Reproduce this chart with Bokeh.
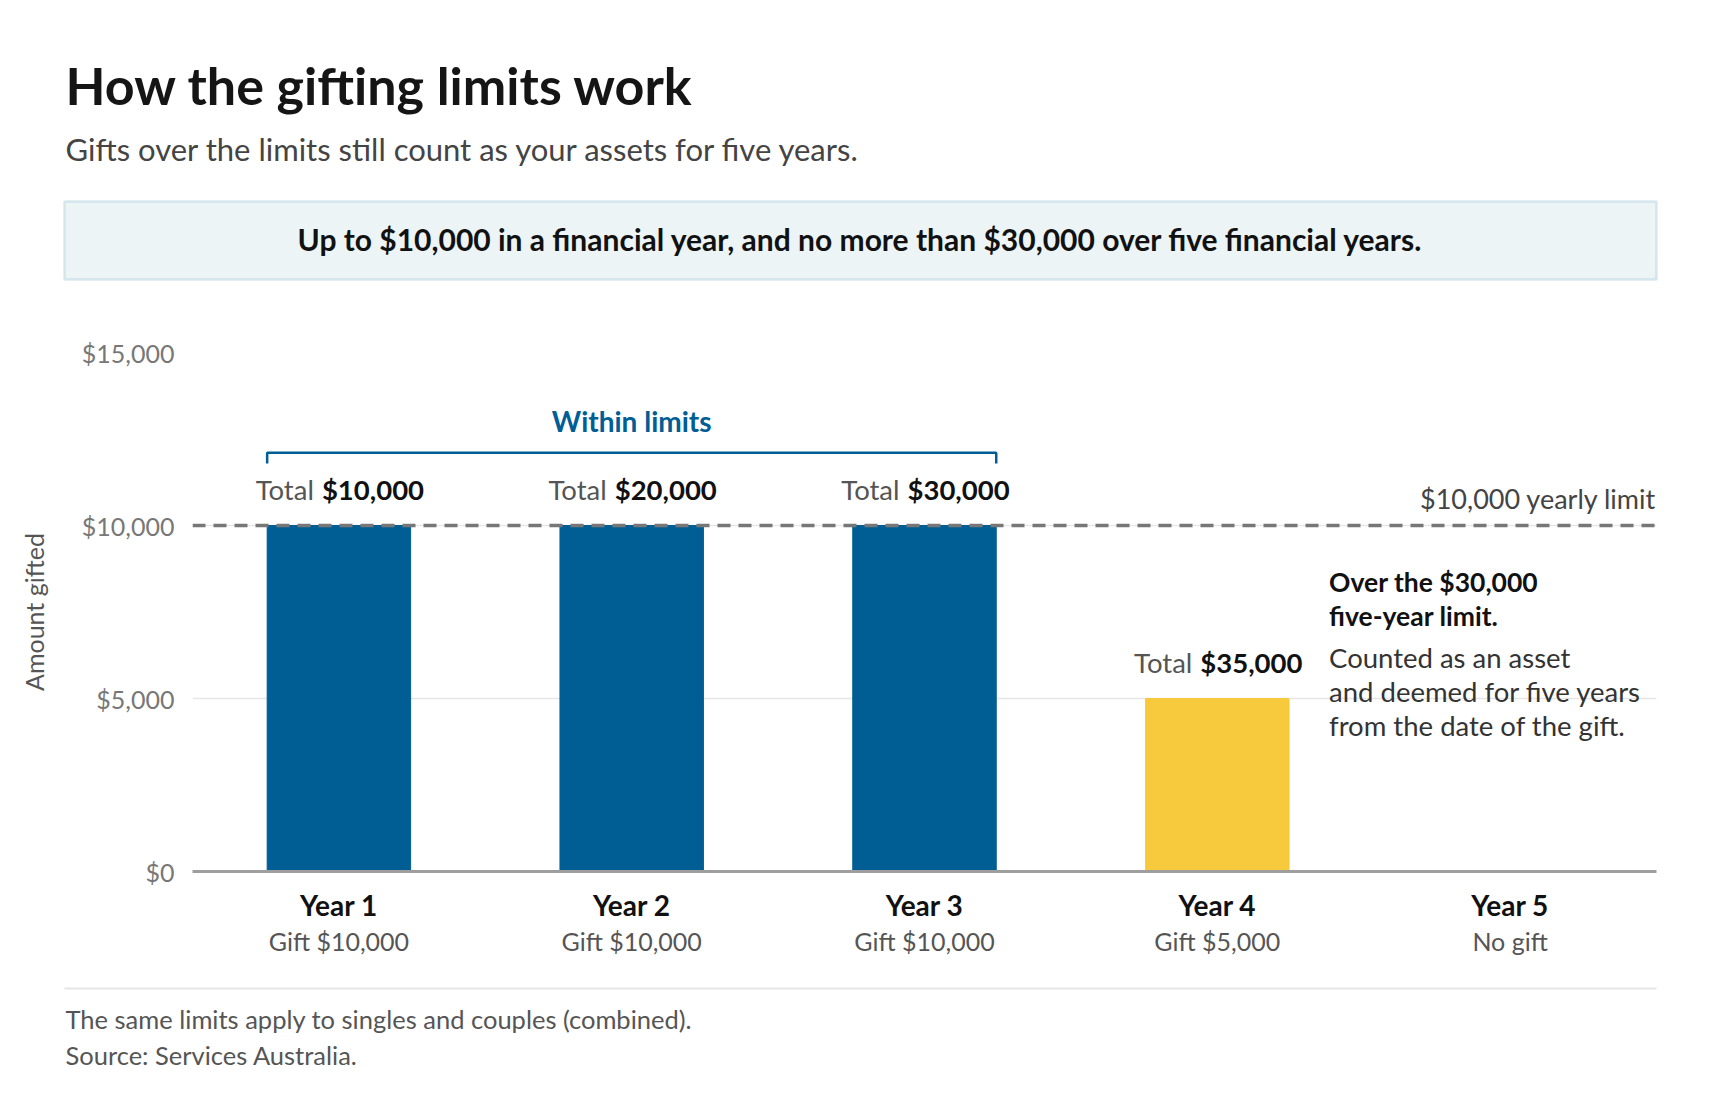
from bokeh.core.properties import value
from bokeh.embed import file_html
from bokeh.layouts import column
from bokeh.models import (BoxAnnotation, ColumnDataSource, LabelSet,
                          NumeralTickFormatter, Range1d, Span)
from bokeh.plotting import figure
from bokeh.resources import INLINE

# data
years = ["Year 1", "Year 2", "Year 3", "Year 4", "Year 5"]
gifts = [10000, 10000, 10000, 5000, 0]
gift_notes = ["Gift $10,000", "Gift $10,000", "Gift $10,000", "Gift $5,000", "No gift"]
y_ticks = [0, 5000, 10000, 15000]
yearly_limit = 10000
five_year_limit = 30000

title = "How the gifting limits work"
subtitle = "Gifts over the limits still count as your assets for five years."
rule_text = "Up to $10,000 in a financial year, and no more than $30,000 over five financial years."
over_lines = ["Over the $30,000", "five-year limit."]
note_lines = ["Counted as an asset", "and deemed for five years", "from the date of the gift."]
footer_lines = ["The same limits apply to singles and couples (combined).",
                "Source: Services Australia."]

FONT = "Lato"
BLUE = "#005e95"
YELLOW = "#f7c93c"
BAR_W = 0.49
BRACKET_Y = 12100
W = 1704


def page_fig(top, bottom):
    # a strip of the page whose data units are page pixels (y grows downward)
    f = figure(width=W, height=bottom - top, x_range=Range1d(0, W),
               y_range=Range1d(bottom, top), x_axis_type=None, y_axis_type=None,
               output_backend="svg", toolbar_location=None)
    f.outline_line_color = None
    f.min_border = 0
    f.frame_align = False
    f.xgrid.grid_line_color = None
    f.ygrid.grid_line_color = None
    return f


def text(fig, x, y, s, size, color="#111111", bold=False, align="left", dx=0, dy=0):
    src = ColumnDataSource(dict(x=x if isinstance(x, list) else [x],
                                y=y if isinstance(y, list) else [y],
                                t=s if isinstance(s, list) else [s]))
    fig.add_layout(LabelSet(x="x", y="y", text="t", source=src, x_offset=dx, y_offset=dy,
                            text_font=value(FONT), text_font_size=size,
                            text_font_style="bold" if bold else "normal",
                            text_color=color, text_align=align,
                            text_baseline="alphabetic"))


# ---------------- header ----------------
head = page_fig(0, 300)
text(head, 65, 104, title, "52px", color="#151515", bold=True)
text(head, 65, 160, subtitle, "31px", color="#444444")
head.add_layout(BoxAnnotation(left=64, right=1656, top=201, bottom=279, fill_color="#ecf4f6",
                              fill_alpha=1, line_color="#8bbcd2", line_width=2.5))
text(head, 860, 250, rule_text, "30px", bold=True, align="center")

# ---------------- chart ----------------
totals = []
running = 0
for g in gifts:
    running += g
    totals.append(running)
within = [t <= five_year_limit for t in totals]
colors = [BLUE if w else YELLOW for w in within]

src = ColumnDataSource(dict(year=years, gift=gifts, color=colors))
shown = [i for i, g in enumerate(gifts) if g > 0]
tot_src = ColumnDataSource(dict(
    year=[years[i] for i in shown],
    gift=[gifts[i] for i in shown],
    word=["Total"] * len(shown),
    amount=["${:,.0f}".format(totals[i]) for i in shown],
))

p = figure(x_range=years, y_range=Range1d(0, y_ticks[-1]), width=W, height=624,
           output_backend="svg", toolbar_location=None,
           min_border_left=192, min_border_right=48, min_border_top=52, min_border_bottom=53)
p.outline_line_color = None
p.xgrid.grid_line_color = None
p.ygrid.grid_line_color = "#e6e6e6"
p.ygrid.grid_line_width = 1.5

p.yaxis.ticker = y_ticks
p.yaxis.formatter = NumeralTickFormatter(format="$0,0")
p.yaxis.axis_line_color = None
p.yaxis.major_tick_line_color = None
p.yaxis.minor_tick_line_color = None
p.yaxis.major_label_standoff = 12
p.yaxis.major_label_text_font = FONT
p.yaxis.major_label_text_font_size = "25px"
p.yaxis.major_label_text_color = "#777777"
p.yaxis.axis_label = "Amount gifted"
p.yaxis.axis_label_text_font = FONT
p.yaxis.axis_label_text_font_size = "25px"
p.yaxis.axis_label_text_font_style = "normal"
p.yaxis.axis_label_text_color = "#555555"
p.yaxis.axis_label_standoff = 30

p.xaxis.axis_line_color = "#9e9e9e"
p.xaxis.axis_line_width = 3
p.xaxis.major_tick_line_color = None
p.xaxis.minor_tick_line_color = None
p.xaxis.major_label_standoff = 10
p.xaxis.major_label_text_font = FONT
p.xaxis.major_label_text_font_size = "28px"
p.xaxis.major_label_text_font_style = "bold"
p.xaxis.major_label_text_color = "#111111"

p.vbar(x="year", top="gift", width=BAR_W, color="color", source=src)

p.add_layout(Span(location=yearly_limit, dimension="width", line_color="#777777",
                  line_width=3.5, line_dash="13 8"))
text(p, len(years), yearly_limit, "$10,000 yearly limit", "27px", color="#444444",
     align="right", dy=17)

# totals above the bars
for field, dx, align, style, color in [("word", -25, "right", "normal", "#555555"),
                                       ("amount", -17, "left", "bold", "#111111")]:
    p.add_layout(LabelSet(x="year", y="gift", text=field, source=tot_src, x_offset=dx,
                          y_offset=26, text_align=align, text_baseline="alphabetic",
                          text_font=value(FONT), text_font_size="27.5px",
                          text_font_style=style, text_color=color))

# bracket over the bars that stay within limits
idx = [i for i, w in enumerate(within) if w and gifts[i] > 0]
bl = idx[0] + 0.5 - BAR_W / 2
br = idx[-1] + 0.5 + BAR_W / 2
tick_y = BRACKET_Y - 310
p.line([bl, bl, br, br], [tick_y, BRACKET_Y, BRACKET_Y, tick_y], line_color=BLUE,
       line_width=2.5)
text(p, (bl + br) / 2, BRACKET_Y, "Within limits", "28px", color=BLUE, bold=True,
     align="center", dy=21)

# note beside year 4
over_x = years.index("Year 4") + 0.5 + BAR_W / 2
for line, dy in zip(over_lines, [-66, -100]):
    text(p, over_x, yearly_limit, line, "26.5px", bold=True, dx=40, dy=dy)
for line, dy in zip(note_lines, [-142, -176, -210]):
    text(p, over_x, yearly_limit, line, "27.5px", color="#333333", dx=40, dy=dy)

# ---------------- gift under each year (shares the chart's categories) ----------------
notes = figure(x_range=p.x_range, y_range=Range1d(975, 924), width=W, height=51,
               x_axis_type=None, y_axis_type=None, output_backend="svg",
               toolbar_location=None, min_border_left=192, min_border_right=48,
               min_border_top=0, min_border_bottom=0)
notes.outline_line_color = None
notes.xgrid.grid_line_color = None
notes.ygrid.grid_line_color = None
text(notes, years, [950] * len(years), gift_notes, "25px", color="#555555", align="center")

# ---------------- footer ----------------
foot = page_fig(975, 1100)
foot.add_layout(BoxAnnotation(left=64, right=1656, top=987, bottom=989, fill_color="#e6e6e6",
                              fill_alpha=1, line_color=None))
text(foot, [65, 65], [1028, 1064], footer_lines, "25.5px", color="#555555")

page = column(head, p, notes, foot)
open("out.html", "w").write(file_html(page, INLINE))
